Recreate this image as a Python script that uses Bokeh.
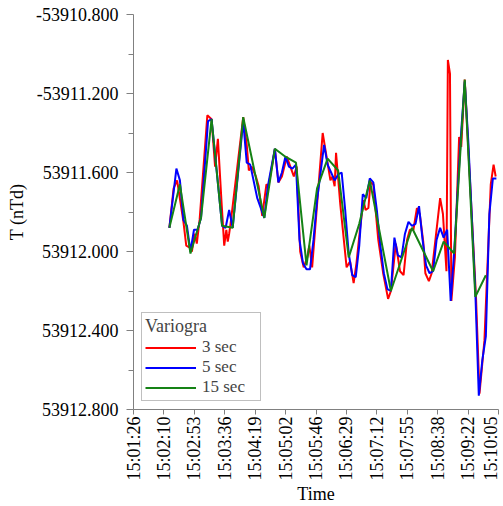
import math
from bokeh.plotting import figure
from bokeh.models import FixedTicker, CustomJSTickFormatter, Range1d
from bokeh.embed import file_html
from bokeh.resources import INLINE

# x: seconds after 15:01:26
X_TICK_LABELS = ["15:01:26", "15:02:10", "15:02:53", "15:03:36", "15:04:19", "15:05:02", "15:05:46",
                 "15:06:29", "15:07:12", "15:07:55", "15:08:38", "15:09:22", "15:10:05"]
X_SPAN = 519
Y_TICK_VALUES = [-53912.8, -53912.4, -53912.0, -53911.6, -53911.2, -53910.8]
Y_TICK_LABELS = ["53912.800", "53912.400", "53912.000", "53911.600", "-53911.200", "-53910.800"]

t3 = [51, 57, 62, 71, 75, 80, 83, 87, 90, 94,
      105, 111, 116, 120, 125, 129, 132, 134, 136, 138,
      156, 161, 164, 168, 174, 178, 183, 189, 192, 201,
      206, 211, 218, 222, 228, 232, 237, 242, 247, 250,
      254, 269, 280, 283, 286, 288, 294, 303, 308, 313,
      317, 322, 327, 330, 334, 337, 341, 348, 355, 362,
      366, 373, 379, 384, 389, 393, 398, 403, 407, 412,
      415, 420, 424, 436, 440, 445, 447, 450, 452,
      457, 463, 466, 471, 487, 492, 499, 508, 512, 515]
v3 = [-53911.88, -53911.68, -53911.64, -53911.85, -53911.97, -53911.98, -53912.00, -53911.91, -53911.96, -53911.84,
      -53911.31, -53911.33, -53911.57, -53911.43, -53911.74, -53911.97, -53911.89, -53911.95, -53911.91, -53911.86,
      -53911.32, -53911.46, -53911.59, -53911.57, -53911.62, -53911.67, -53911.82, -53911.66, -53911.67, -53911.48,
      -53911.65, -53911.62, -53911.52, -53911.56, -53911.62, -53911.57, -53912.00, -53912.08, -53912.03, -53911.97,
      -53912.08, -53911.40, -53911.64, -53911.62, -53911.67, -53911.50, -53911.76, -53912.08, -53912.05, -53912.16,
      -53912.06, -53911.89, -53911.74, -53911.79, -53911.78, -53911.65, -53911.66, -53911.94, -53912.11, -53912.24,
      -53912.20, -53911.96, -53912.10, -53912.12, -53911.94, -53911.89, -53911.89, -53911.78, -53911.81, -53911.95,
      -53912.11, -53912.15, -53912.11, -53911.73, -53911.81, -53912.10, -53911.03, -53911.10, -53912.25,
      -53912.03, -53911.42, -53911.47, -53911.13, -53912.23, -53912.72, -53912.45, -53911.66, -53911.56, -53911.62]

t5 = [51, 61, 66, 71, 76, 81, 86, 91, 96, 106,
      111, 126, 131, 136, 141, 156, 161, 166, 176, 186,
      191, 201, 206, 211, 216, 221, 226, 231, 236, 241,
      246, 251, 256, 261, 271, 276, 281, 286, 291, 296,
      301, 306, 311, 316, 321, 326, 331, 336, 341, 346,
      351, 356, 361, 366, 371, 376, 381, 386, 391, 396,
      401, 406, 411, 416, 421, 426, 431, 436, 441, 446,
      451, 456, 461, 466, 471, 476, 481, 486, 491, 496,
      501, 506, 511, 516]
v5 = [-53911.88, -53911.58, -53911.64, -53911.84, -53911.87, -53912.00, -53911.89, -53911.89, -53911.83, -53911.34,
      -53911.33, -53911.87, -53911.88, -53911.79, -53911.88, -53911.34, -53911.55, -53911.56, -53911.73, -53911.83,
      -53911.67, -53911.48, -53911.65, -53911.60, -53911.52, -53911.57, -53911.58, -53911.56, -53911.94, -53912.06,
      -53912.09, -53912.09, -53911.94, -53911.74, -53911.46, -53911.56, -53911.60, -53911.64, -53911.61, -53911.60,
      -53911.79, -53912.01, -53912.12, -53912.13, -53911.97, -53911.71, -53911.73, -53911.63, -53911.65, -53911.79,
      -53911.97, -53912.11, -53912.19, -53912.20, -53911.93, -53912.02, -53912.03, -53911.91, -53911.85, -53911.87,
      -53911.86, -53911.77, -53911.94, -53912.07, -53912.11, -53912.10, -53911.94, -53911.88, -53911.93, -53911.89,
      -53912.25, -53912.00, -53911.69, -53911.39, -53911.14, -53911.44, -53911.82, -53912.20, -53912.73, -53912.55,
      -53912.43, -53911.81, -53911.63, -53911.63]

t15 = [51, 66, 81, 96, 111, 126, 141, 156, 186, 201,
       216, 231, 246, 261, 276, 291, 306, 321, 336, 366,
       396, 426, 441, 456, 471, 486, 501]
v15 = [-53911.88, -53911.66, -53912.01, -53911.83, -53911.33, -53911.87, -53911.88, -53911.32, -53911.83, -53911.48,
       -53911.52, -53911.55, -53912.07, -53911.68, -53911.53, -53911.59, -53912.03, -53911.86, -53911.64, -53912.20,
       -53911.88, -53912.10, -53911.95, -53912.01, -53911.13, -53912.23, -53912.12]

SERIES = [("3 sec", t3, v3, "#ff0000"), ("5 sec", t5, v5, "#0000ff"), ("15 sec", t15, v15, "#158215")]
X_TITLE = "Time"
Y_TITLE = "T (nTd)"
LEGEND_TITLE = "Variogra"

FONT = "Liberation Serif"
GRAY = "#808080"

p = figure(width=500, height=506, output_backend="svg", toolbar_location=None,
           x_range=Range1d(0, X_SPAN), y_range=Range1d(Y_TICK_VALUES[0], Y_TICK_VALUES[-1]),
           min_border_left=133, min_border_right=2, min_border_top=14, min_border_bottom=97)
p.outline_line_color = None
p.xgrid.visible = False
p.ygrid.visible = False

for name, t, v, c in SERIES:
    p.line(t, v, line_color=c, line_width=2, legend_label=name)

step = X_SPAN / (len(X_TICK_LABELS) - 1)
p.xaxis.ticker = FixedTicker(ticks=[i * step for i in range(len(X_TICK_LABELS))], minor_ticks=[])
p.xaxis.formatter = CustomJSTickFormatter(args=dict(labels=X_TICK_LABELS, step=step),
                                          code="return labels[Math.round(tick/step)];")
p.xaxis.major_label_orientation = math.pi / 2
p.xaxis.major_tick_out = 5
p.xaxis.major_label_standoff = 2
p.xaxis.axis_label = X_TITLE
p.xaxis.axis_label_standoff = 0

minor_y = [(a + b) / 2 for a, b in zip(Y_TICK_VALUES[:-1], Y_TICK_VALUES[1:])]
p.yaxis.ticker = FixedTicker(ticks=Y_TICK_VALUES, minor_ticks=minor_y)
p.yaxis.formatter = CustomJSTickFormatter(args=dict(vals=Y_TICK_VALUES, labels=Y_TICK_LABELS), code="""
let best = 0;
for (let i = 1; i < vals.length; i++) {
  if (Math.abs(vals[i] - tick) < Math.abs(vals[best] - tick)) best = i;
}
return labels[best];
""")
p.yaxis.major_tick_out = 7
p.yaxis.minor_tick_out = 5
p.yaxis.minor_tick_in = 0
p.yaxis.major_label_standoff = 8
p.yaxis.axis_label = Y_TITLE
p.yaxis.axis_label_standoff = 6

for ax in (p.xaxis[0], p.yaxis[0]):
    ax.major_tick_in = 0
    ax.axis_line_color = GRAY
    ax.major_tick_line_color = GRAY
    ax.minor_tick_line_color = GRAY
    ax.major_label_text_font = FONT
    ax.major_label_text_font_size = "18px"
    ax.major_label_text_color = "black"
    ax.axis_label_text_font = FONT
    ax.axis_label_text_font_size = "18px"
    ax.axis_label_text_font_style = "normal"
    ax.axis_label_text_color = "black"

lg = p.legend[0]
lg.location = "bottom_left"
lg.margin = 8
lg.title = LEGEND_TITLE
lg.title_text_font = FONT
lg.title_text_font_size = "18px"
lg.title_text_font_style = "normal"
lg.title_text_align = "center"
lg.title_standoff = 0
lg.label_text_font = FONT
lg.label_text_font_size = "17px"
lg.label_standoff = 6
lg.label_width = 55
lg.glyph_width = 51
lg.glyph_height = 17
lg.label_height = 17
lg.spacing = 0
lg.padding = 3
lg.border_line_color = GRAY
lg.border_line_width = 1
lg.background_fill_alpha = 1.0

open("out.html", "w").write(file_html(p, INLINE))
